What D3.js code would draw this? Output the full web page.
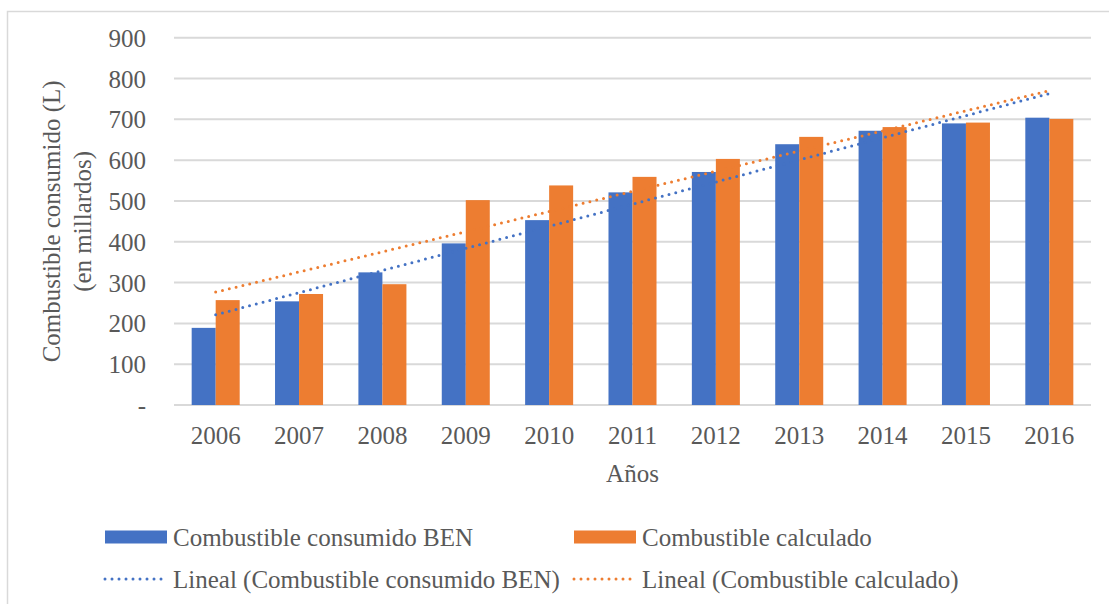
<!DOCTYPE html>
<html>
<head>
<meta charset="utf-8">
<script src="https://cdn.jsdelivr.net/npm/d3@7"></script>
<style>
  html, body { margin: 0; padding: 0; background: #fff; }
  svg { display: block; }
  text { font-family: "Liberation Serif", "Times New Roman", serif; fill: #595959; }
</style>
</head>
<body>
<svg id="chart" width="1109" height="604"></svg>
<script>
// Years on the category axis
const years = ["2006", "2007", "2008", "2009", "2010", "2011", "2012", "2013", "2014", "2015", "2016"];
// Fuel consumed, billions of litres
const consumidoBEN = [189, 254, 325, 396, 453, 521, 571, 639, 672, 690, 704];
const calculado = [257, 272, 296, 502, 538, 559, 603, 657, 681, 692, 701];
// Value-axis ticks and their labels
const yTicks = [0, 100, 200, 300, 400, 500, 600, 700, 800, 900];
const yTickLabels = ["-", "100", "200", "300", "400", "500", "600", "700", "800", "900"];
const seriesNames = ["Combustible consumido BEN", "Combustible calculado"];
const trendNames = ["Lineal (Combustible consumido BEN)", "Lineal (Combustible calculado)"];

const colors = ["#4472C4", "#ED7D31"];
const gridColor = "#D9D9D9";
const fontSize = 25;

const svg = d3.select("#chart");
const plot = { left: 174, right: 1091, top: 37.7, bottom: 405 };

// Outer frame of the chart area
svg.append("rect")
  .attr("x", 7.5).attr("y", 11.5)
  .attr("width", 1120).attr("height", 620)
  .attr("fill", "none").attr("stroke", gridColor).attr("stroke-width", 1.5);

const y = d3.scaleLinear().domain([0, 900]).range([plot.bottom, plot.top]);
const x0 = d3.scaleBand().domain(years).range([plot.left, plot.right])
  .paddingInner(0.424).paddingOuter(0.212);
const x1 = d3.scaleBand().domain([0, 1]).range([0, x0.bandwidth()]);

// Horizontal gridlines
svg.append("g").selectAll("line").data(yTicks).join("line")
  .attr("x1", plot.left).attr("x2", plot.right)
  .attr("y1", d => y(d)).attr("y2", d => y(d))
  .attr("stroke", gridColor).attr("stroke-width", 2);

// Value axis labels
const yAxis = d3.axisLeft(y).tickValues(yTicks)
  .tickFormat((d, i) => yTickLabels[i]).tickSize(0).tickPadding(0);
const gy = svg.append("g").attr("transform", `translate(${plot.left - 28},0)`).call(yAxis);
gy.select(".domain").remove();
gy.selectAll("text").attr("font-size", fontSize).style("fill", "#595959")
  .attr("font-family", "Liberation Serif").attr("dy", "0.34em");

// Category axis labels
const xAxis = d3.axisBottom(x0).tickSize(0).tickPadding(0);
const gx = svg.append("g").attr("transform", `translate(0,${plot.bottom + 21})`).call(xAxis);
gx.select(".domain").remove();
gx.selectAll("text").attr("font-size", fontSize).style("fill", "#595959")
  .attr("font-family", "Liberation Serif").attr("dy", "0.71em");

// Grouped bars
const series = [consumidoBEN, calculado];
series.forEach((vals, s) => {
  svg.append("g").selectAll("rect").data(vals).join("rect")
    .attr("x", (d, i) => x0(years[i]) + x1(s))
    .attr("width", x1.bandwidth())
    .attr("y", d => y(d))
    .attr("height", d => y(0) - y(d))
    .attr("fill", colors[s]);
});

// Least-squares linear trend for each series
function linearFit(vals) {
  const xs = vals.map((_, i) => i + 1);
  const mx = d3.mean(xs), my = d3.mean(vals);
  const sxy = d3.sum(xs, (xv, i) => (xv - mx) * (vals[i] - my));
  const sxx = d3.sum(xs, xv => (xv - mx) ** 2);
  const b = sxy / sxx, a = my - b * mx;
  return xs.map(xv => a + b * xv);
}
const line = d3.line()
  .x(d => x0(years[d[0]]) + x0.bandwidth() / 2)
  .y(d => y(d[1]));
[1, 0].forEach(s => {
  const fit = linearFit(series[s]);
  const last = fit.length - 1;
  svg.append("path")
    .attr("d", line([[0, fit[0]], [last, fit[last]]]))
    .attr("fill", "none").attr("stroke", colors[s])
    .attr("stroke-width", 3).attr("stroke-linecap", "round")
    .attr("stroke-dasharray", "0,7");
});

// Axis titles
svg.append("text")
  .attr("transform", `translate(${(plot.left + plot.right) / 2},473) `)
  .attr("text-anchor", "middle").attr("dy", "0.35em")
  .attr("font-size", fontSize).text("Años");

const yTitle = svg.append("text")
  .attr("transform", `translate(66,${(plot.top + plot.bottom) / 2}) rotate(-90)`)
  .attr("text-anchor", "middle").attr("font-size", fontSize);
yTitle.append("tspan").attr("x", 0).attr("dy", "-0.25em").text("Combustible consumido (L)");
yTitle.append("tspan").attr("x", 0).attr("dy", "1.25em").text("(en millardos)");

// Legend
const legendItems = [
  { x: 105, y: 537, type: "bar", color: colors[0], label: seriesNames[0] },
  { x: 574, y: 537, type: "bar", color: colors[1], label: seriesNames[1] },
  { x: 105, y: 579, type: "trend", color: colors[0], label: trendNames[0] },
  { x: 574, y: 579, type: "trend", color: colors[1], label: trendNames[1] }
];
const lg = svg.append("g").selectAll("g").data(legendItems).join("g")
  .attr("transform", d => `translate(${d.x},${d.y})`);
lg.filter(d => d.type === "bar").append("rect")
  .attr("x", 0).attr("y", -6.5).attr("width", 62).attr("height", 13)
  .attr("fill", d => d.color);
lg.filter(d => d.type === "trend").append("line")
  .attr("x1", 0).attr("x2", 60).attr("y1", 0).attr("y2", 0)
  .attr("stroke", d => d.color).attr("stroke-width", 3)
  .attr("stroke-linecap", "round").attr("stroke-dasharray", "0,7");
lg.append("text")
  .attr("x", 68).attr("dy", "0.35em").attr("font-size", fontSize)
  .text(d => d.label);
</script>
</body>
</html>
